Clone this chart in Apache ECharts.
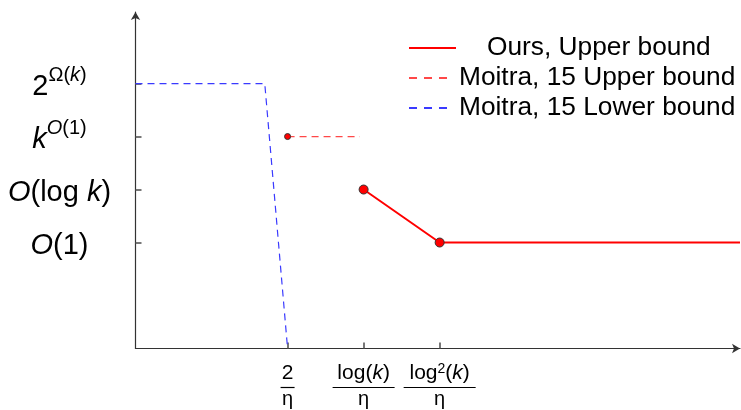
<!DOCTYPE html>
<html>
<head>
<meta charset="utf-8">
<script src="https://cdn.jsdelivr.net/npm/echarts@6/dist/echarts.min.js"></script>
<style>
  html, body { margin: 0; padding: 0; background: #fff; }
  #chart { width: 741px; height: 410px; }
</style>
</head>
<body>
<div id="chart"></div>
<script>
// Complexity levels on the y axis, sample-size thresholds on the x axis
const yTickValues = [2, 3, 4, 5];
const yTickLabels = [
  '{bi|O}{b|(1)}',
  '{bi|O}{b|(log }{bi|k}{b|)}',
  '{bi|k}{supi|O}{sup|(1)}',
  '{b|2}{sup|Ω(}{supi|k}{sup|)}'
];
const xTickValues = [2, 3, 4];
const xTickLabels = [
  '{n|2}\n{bar1| }\n{d|η}',
  '{n|log(}{ni|k}{n|)}\n{bar2| }\n{d|η}',
  '{n|log}{ns|2}{n|(}{ni|k}{n|)}\n{bar3| }\n{d|η}'
];

// Series
const oursX = [3, 4, 7.95];
const oursY = [3, 2, 2];
const oursMarked = [true, true, false];

const moitraUpperX = [2, 2.95];
const moitraUpperY = [4, 4];
const moitraUpperMarked = [true, false];

const moitraLowerX = [0, 1.7, 2];
const moitraLowerY = [5, 5, 0];

const seriesNames = ['Ours, Upper bound', 'Moitra, 15 Upper bound', 'Moitra, 15 Lower bound'];

const FONT = '"Liberation Sans", Arial, sans-serif';

function points(xs, ys, marked, size) {
  return xs.map((x, i) => ({
    value: [x, ys[i]],
    symbol: marked && marked[i] ? 'circle' : 'none',
    symbolSize: size
  }));
}

function labelFor(values, labels) {
  return v => {
    const i = values.indexOf(Math.round(v * 1000) / 1000);
    return i >= 0 ? labels[i] : '';
  };
}

const markerStyle = { color: '#ff0000', borderColor: '#333', borderWidth: 1 };

function legendAt(name, top, iconW, textPad, dashed) {
  return {
    data: [name],
    left: 408,
    top: top,
    orient: 'vertical',
    padding: 0,
    itemWidth: iconW,
    itemHeight: 14,
    itemStyle: { opacity: 0 },
    lineStyle: dashed ? { type: [8, 7] } : {},
    textStyle: {
      fontFamily: FONT,
      fontSize: 26.3,
      color: '#000',
      padding: [0, 0, 0, textPad]
    },
    selectedMode: false
  };
}

const chart = echarts.init(document.getElementById('chart'), null, { renderer: 'canvas' });

chart.setOption({
  animation: false,
  backgroundColor: '#fff',
  grid: { left: 135.5, right: 1, top: 12, bottom: 61.5, containLabel: false },
  legend: [
    legendAt(seriesNames[0], 35, 47, 26, false),
    legendAt(seriesNames[1], 65, 41, 4, true),
    legendAt(seriesNames[2], 95, 41, 4, true)
  ],
  xAxis: {
    type: 'value',
    min: 0,
    max: 7.95,
    splitLine: { show: false },
    axisLine: {
      onZero: false,
      symbol: ['none', 'arrow'],
      symbolSize: [7, 8],
      lineStyle: { color: '#333', width: 1.2 }
    },
    axisTick: {
      show: true,
      inside: true,
      length: 6,
      customValues: xTickValues,
      lineStyle: { color: '#555', width: 1.6 }
    },
    axisLabel: {
      customValues: xTickValues,
      formatter: labelFor(xTickValues, xTickLabels),
      margin: 14,
      align: 'center',
      verticalAlign: 'top',
      rich: {
        n: { fontFamily: FONT, fontSize: 21, lineHeight: 22, color: '#000' },
        ni: { fontFamily: FONT, fontSize: 21, lineHeight: 22, fontStyle: 'italic', color: '#000' },
        ns: { fontFamily: FONT, fontSize: 14, lineHeight: 22, verticalAlign: 'top', color: '#000' },
        d: { fontFamily: FONT, fontSize: 20, lineHeight: 18, color: '#000' },
        bar1: { width: 14, height: 1.2, fontSize: 1, lineHeight: 6, backgroundColor: '#000' },
        bar2: { width: 62, height: 1.2, fontSize: 1, lineHeight: 6, backgroundColor: '#000' },
        bar3: { width: 72, height: 1.2, fontSize: 1, lineHeight: 6, backgroundColor: '#000' }
      }
    }
  },
  yAxis: {
    type: 'value',
    min: 0,
    max: 6.35,
    splitLine: { show: false },
    axisLine: {
      onZero: false,
      symbol: ['none', 'arrow'],
      symbolSize: [7, 8],
      lineStyle: { color: '#333', width: 1.2 }
    },
    axisTick: {
      show: true,
      inside: true,
      length: 6,
      customValues: yTickValues,
      lineStyle: { color: '#555', width: 1.6 }
    },
    axisLabel: {
      customValues: yTickValues,
      formatter: labelFor(yTickValues, yTickLabels),
      margin: 76,
      align: 'center',
      verticalAlign: 'middle',
      rich: {
        b: { fontFamily: FONT, fontSize: 29, lineHeight: 36, verticalAlign: 'bottom', color: '#000' },
        bi: { fontFamily: FONT, fontSize: 29, lineHeight: 36, verticalAlign: 'bottom', fontStyle: 'italic', color: '#000' },
        sup: { fontFamily: FONT, fontSize: 20, lineHeight: 20, verticalAlign: 'top', color: '#000' },
        supi: { fontFamily: FONT, fontSize: 20, lineHeight: 20, verticalAlign: 'top', fontStyle: 'italic', color: '#000' }
      }
    }
  },
  series: [
    {
      name: seriesNames[0],
      type: 'line',
      data: points(oursX, oursY, oursMarked, 9),
      lineStyle: { color: '#ff0000', width: 2 },
      itemStyle: markerStyle,
      z: 4
    },
    {
      name: seriesNames[1],
      type: 'line',
      data: points(moitraUpperX, moitraUpperY, moitraUpperMarked, 6),
      lineStyle: { color: '#ff4848', width: 1.2, type: [7, 5] },
      itemStyle: markerStyle,
      z: 3
    },
    {
      name: seriesNames[2],
      type: 'line',
      data: points(moitraLowerX, moitraLowerY, null, 0),
      lineStyle: { color: '#3a3aff', width: 1.2, type: [7, 5] },
      itemStyle: { color: '#3a3aff' },
      z: 3
    }
  ]
});
</script>
</body>
</html>
